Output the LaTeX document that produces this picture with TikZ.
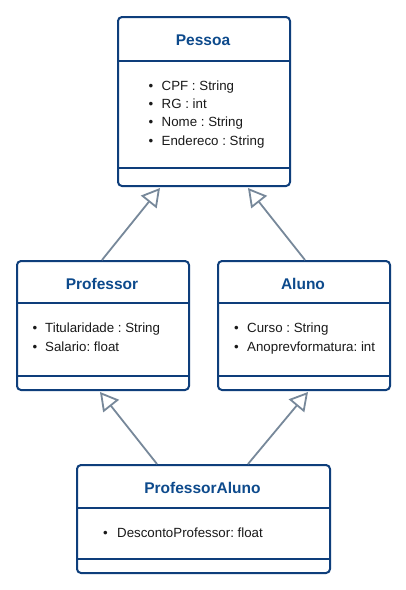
\documentclass[tikz,border=0pt]{standalone}
\usepackage{fontspec}
\setmainfont{Liberation Sans}
\usetikzlibrary{arrows.meta,calc}
\frenchspacing
\definecolor{umlblue}{HTML}{0E3E7B}
\definecolor{titleblue}{HTML}{0D4A8C}
\definecolor{arrowgray}{HTML}{77889A}
\definecolor{txt}{HTML}{1A1A1A}
\tikzset{
  classbox/.style={draw=umlblue, line width=2pt, rounded corners=4pt, fill=white, inner sep=0pt, anchor=north west},
  sepline/.style={draw=umlblue, line width=2pt},
  classtitle/.style={text=titleblue, font=\fontsize{15.5}{18}\selectfont\bfseries, anchor=base, inner sep=0pt},
  attr/.style={text=txt, font=\fontsize{13.3}{16}\selectfont\frenchspacing, anchor=base west, inner sep=0pt},
  inherit/.style={draw=arrowgray, line width=1.8pt, -{Triangle[open,length=18pt,width=20pt]}}
}
\begin{document}
\begin{tikzpicture}[x=1pt,y=-1pt]
\path[use as bounding box, fill=white] (0,0) rectangle (405,590);

% Pessoa
\node[classbox, minimum width=172pt, minimum height=169pt] (pessoa) at (117,16) {};
\draw[sepline] ($(pessoa.north west)+(0,45)$) -- ($(pessoa.north east)+(0,45)$);
\draw[sepline] ($(pessoa.north west)+(0,152)$) -- ($(pessoa.north east)+(0,152)$);
\node[classtitle] (pessoaT) at (203,45.3) {Pessoa};
\node[attr] (pb1) at (148.5,90) {\textbullet};
\node[attr] (pa1) at (161.5,90) {CPF : String};
\node[attr] (pb2) at (148.5,108.3) {\textbullet};
\node[attr] (pa2) at (161.5,108.3) {RG : int};
\node[attr] (pb3) at (148.5,126.6) {\textbullet};
\node[attr] (pa3) at (161.5,126.6) {Nome : String};
\node[attr] (pb4) at (148.5,145) {\textbullet};
\node[attr] (pa4) at (161.5,145) {Endereco : String};

% Professor
\node[classbox, minimum width=172pt, minimum height=129pt] (professor) at (16,260) {};
\draw[sepline] ($(professor.north west)+(0,43)$) -- ($(professor.north east)+(0,43)$);
\draw[sepline] ($(professor.north west)+(0,116)$) -- ($(professor.north east)+(0,116)$);
\node[classtitle] (professorT) at (102,289) {Professor};
\node[attr] (rb1) at (32.5,332.6) {\textbullet};
\node[attr] (ra1) at (45,332.6) {Titularidade : String};
\node[attr] (rb2) at (32.5,351) {\textbullet};
\node[attr] (ra2) at (45,351) {Salario: float};

% Aluno
\node[classbox, minimum width=172pt, minimum height=129pt] (aluno) at (217,260) {};
\draw[sepline] ($(aluno.north west)+(0,43)$) -- ($(aluno.north east)+(0,43)$);
\draw[sepline] ($(aluno.north west)+(0,116)$) -- ($(aluno.north east)+(0,116)$);
\node[classtitle] (alunoT) at (303,289) {Aluno};
\node[attr] (ab1) at (234,332.6) {\textbullet};
\node[attr] (aa1) at (247,332.6) {Curso : String};
\node[attr] (ab2) at (234,351) {\textbullet};
\node[attr] (aa2) at (247,351) {Anoprevformatura: int};

% ProfessorAluno
\node[classbox, minimum width=253pt, minimum height=108pt] (pa) at (76,464) {};
\draw[sepline] ($(pa.north west)+(0,44)$) -- ($(pa.north east)+(0,44)$);
\draw[sepline] ($(pa.north west)+(0,95)$) -- ($(pa.north east)+(0,95)$);
\node[classtitle] (paT) at (202.5,493.3) {ProfessorAluno};
\node[attr] (xb1) at (103,537.6) {\textbullet};
\node[attr] (xa1) at (117,537.6) {DescontoProfessor: float};

% Inheritance
\draw[inherit] ($(professor.north west)+(86,0)$) -- ($(pessoa.south west)+(43,1)$);
\draw[inherit] ($(aluno.north west)+(88,0)$) -- ($(pessoa.south west)+(131,1)$);
\draw[inherit] ($(pa.north west)+(81,0)$) -- ($(professor.south west)+(84,1)$);
\draw[inherit] ($(pa.north west)+(172,0)$) -- ($(aluno.south west)+(91,1)$);
\end{tikzpicture}
\end{document}
